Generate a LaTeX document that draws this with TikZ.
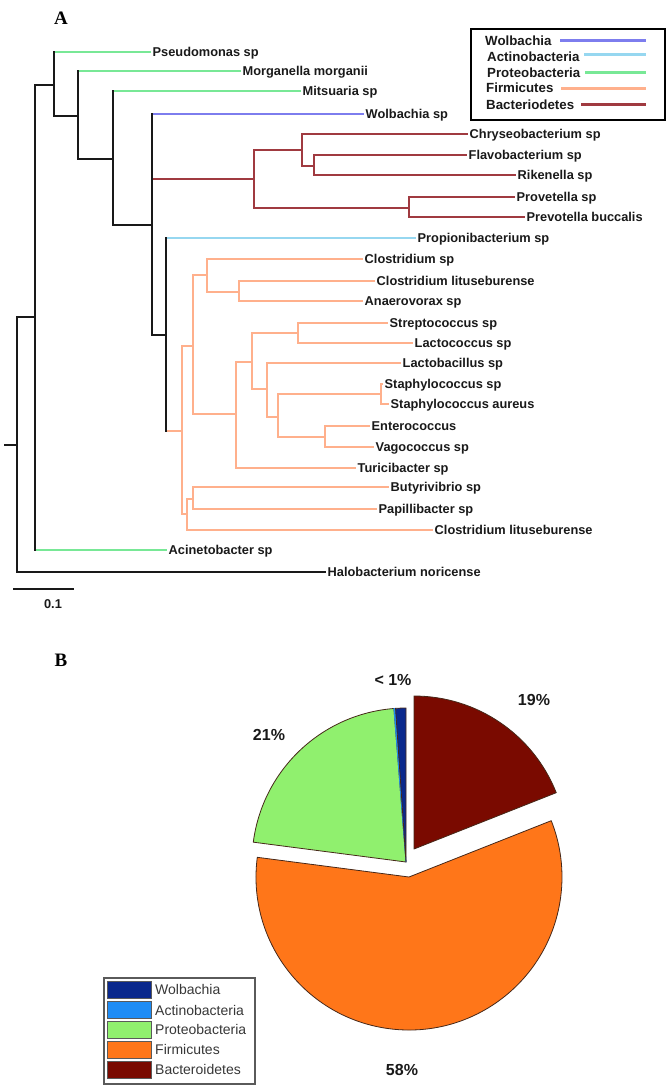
\documentclass[tikz,border=0pt]{standalone}
\usepackage{fontspec}
\setmainfont{Liberation Sans}
\newfontfamily\serifbold{Liberation Serif}
\usetikzlibrary{calc}
\definecolor{cProt}{RGB}{120,232,150}
\definecolor{cWol}{RGB}{125,125,238}
\definecolor{cAct}{RGB}{150,215,240}
\definecolor{cFir}{RGB}{255,176,140}
\definecolor{cBac}{RGB}{160,58,64}
\definecolor{cBlk}{RGB}{25,25,25}
\definecolor{pWol}{RGB}{10,40,140}
\definecolor{pAct}{RGB}{30,140,245}
\definecolor{pPro}{RGB}{144,240,110}
\definecolor{pFir}{RGB}{255,118,25}
\definecolor{pBac}{RGB}{122,10,0}
\definecolor{pEdge}{RGB}{70,40,25}
\definecolor{lgGray}{RGB}{90,90,90}
\definecolor{txtGray}{RGB}{55,55,55}
\begin{document}
\begin{tikzpicture}[x=1pt,y=-1pt,
  br/.style={line width=2pt,line cap=rect},
  leaf/.style={anchor=west,inner xsep=2.5pt,inner ysep=0pt,font=\bfseries\fontsize{12.8}{13}\selectfont,text height=9.2pt,text depth=0pt,text=cBlk},
  lgt/.style={anchor=west,inner sep=0pt,font=\bfseries\fontsize{13.3}{14}\selectfont,text height=9.5pt,text depth=0pt,text=cBlk},
  lgl/.style={line width=3pt},
  pct/.style={font=\bfseries\fontsize{16}{16}\selectfont,text=cBlk,inner sep=0pt},
  slice/.style={draw=pEdge,line width=0.8pt,line join=round},
  sw/.style={draw=lgGray,line width=1pt,minimum width=44pt,minimum height=17pt,inner sep=0pt},
  swt/.style={anchor=west,inner sep=0pt,font=\fontsize{14}{14}\selectfont,text=txtGray,text height=10pt,text depth=0pt},
  panel/.style={font=\serifbold\bfseries\fontsize{19}{19}\selectfont,inner sep=0pt}]
\useasboundingbox (0,0) rectangle (671,1090);

% panel letters
\node[panel] (labA) at (61,18) {A};
\node[panel] (labB) at (61,660) {B};

% internal nodes
\coordinate (stub) at (5,445);
\coordinate (r0) at (17,445);
\coordinate (n35) at (35,317);
\coordinate (n54) at (54,85);
\coordinate (n78) at (78,116);
\coordinate (n113) at (113,159);
\coordinate (n152) at (152,225);
\coordinate (nBac) at (254,179);
\coordinate (nB1) at (302,150);
\coordinate (nB3) at (314,166);
\coordinate (nB2) at (409,208);
\coordinate (n166) at (166,335);
\coordinate (nF) at (182,431);
\coordinate (nF1) at (193,346);
\coordinate (nC) at (207,275);
\coordinate (nC2) at (239,292);
\coordinate (nF3) at (236,414);
\coordinate (nL) at (252,362);
\coordinate (nS) at (298,333);
\coordinate (nL2) at (267,389);
\coordinate (nL3) at (278,417);
\coordinate (nSt) at (381,394);
\coordinate (nE) at (325,437);
\coordinate (nF2) at (187,514);
\coordinate (nBu) at (193,499);

% leaves
\node[leaf] (pse) at (150,52) {Pseudomonas sp};
\node[leaf] (mor) at (240,71) {Morganella morganii};
\node[leaf] (mit) at (300,91) {Mitsuaria sp};
\node[leaf] (wol) at (363,114) {Wolbachia sp};
\node[leaf] (chr) at (467,134) {Chryseobacterium sp};
\node[leaf] (fla) at (466,155) {Flavobacterium sp};
\node[leaf] (rik) at (515,175) {Rikenella sp};
\node[leaf] (prv) at (514,197) {Provetella sp};
\node[leaf] (pbu) at (524,217) {Prevotella buccalis};
\node[leaf] (pro) at (415,238) {Propionibacterium sp};
\node[leaf] (cls) at (362,259) {Clostridium sp};
\node[leaf] (cli) at (374,281) {Clostridium lituseburense};
\node[leaf] (ana) at (362,301) {Anaerovorax sp};
\node[leaf] (str) at (387,323) {Streptococcus sp};
\node[leaf] (lco) at (412,343) {Lactococcus sp};
\node[leaf] (lba) at (400,363) {Lactobacillus sp};
\node[leaf] (sts) at (382,384) {Staphylococcus sp};
\node[leaf] (sta) at (388,404) {Staphylococcus aureus};
\node[leaf] (ent) at (369,426) {Enterococcus};
\node[leaf] (vag) at (373,447) {Vagococcus sp};
\node[leaf] (tur) at (355,468) {Turicibacter sp};
\node[leaf] (but) at (388,487) {Butyrivibrio sp};
\node[leaf] (pap) at (376,509) {Papillibacter sp};
\node[leaf] (cl2) at (432,530) {Clostridium lituseburense};
\node[leaf] (aci) at (166,550) {Acinetobacter sp};
\node[leaf] (hal) at (325,572) {Halobacterium noricense};

% horizontal branches
\draw[br,cBlk] (stub) -- (r0);
\draw[br,cBlk] (r0|-n35) -- (n35);
\draw[br,cBlk] (r0|-hal.west) -- (hal.west);
\draw[br,cBlk] (n35|-n54) -- (n54);
\draw[br,cBlk] (n54|-n78) -- (n78);
\draw[br,cBlk] (n78|-n113) -- (n113);
\draw[br,cBlk] (n113|-n152) -- (n152);
\draw[br,cBlk] (n152|-n166) -- (n166);
\draw[br,cProt] (n35|-aci.west) -- (aci.west);
\draw[br,cProt] (n54|-pse.west) -- (pse.west);
\draw[br,cProt] (n78|-mor.west) -- (mor.west);
\draw[br,cProt] (n113|-mit.west) -- (mit.west);
\draw[br,cWol] (n152|-wol.west) -- (wol.west);
\draw[br,cBac] (n152|-nBac) -- (nBac);
\draw[br,cBac] (nBac|-nB1) -- (nB1);
\draw[br,cBac] (nBac|-nB2) -- (nB2);
\draw[br,cBac] (nB1|-chr.west) -- (chr.west);
\draw[br,cBac] (nB1|-nB3) -- (nB3);
\draw[br,cBac] (nB3|-fla.west) -- (fla.west);
\draw[br,cBac] (nB3|-rik.west) -- (rik.west);
\draw[br,cBac] (nB2|-prv.west) -- (prv.west);
\draw[br,cBac] (nB2|-pbu.west) -- (pbu.west);
\draw[br,cAct] (n166|-pro.west) -- (pro.west);
\draw[br,cFir] (n166|-nF) -- (nF);
\draw[br,cFir] (nF|-nF1) -- (nF1);
\draw[br,cFir] (nF|-nF2) -- (nF2);
\draw[br,cFir] (nF1|-nC) -- (nC);
\draw[br,cFir] (nF1|-nF3) -- (nF3);
\draw[br,cFir] (nC|-cls.west) -- (cls.west);
\draw[br,cFir] (nC|-nC2) -- (nC2);
\draw[br,cFir] (nC2|-cli.west) -- (cli.west);
\draw[br,cFir] (nC2|-ana.west) -- (ana.west);
\draw[br,cFir] (nF3|-nL) -- (nL);
\draw[br,cFir] (nF3|-tur.west) -- (tur.west);
\draw[br,cFir] (nL|-nS) -- (nS);
\draw[br,cFir] (nL|-nL2) -- (nL2);
\draw[br,cFir] (nS|-str.west) -- (str.west);
\draw[br,cFir] (nS|-lco.west) -- (lco.west);
\draw[br,cFir] (nL2|-lba.west) -- (lba.west);
\draw[br,cFir] (nL2|-nL3) -- (nL3);
\draw[br,cFir] (nL3|-nSt) -- (nSt);
\draw[br,cFir] (nL3|-nE) -- (nE);
\draw[br,cFir] (nSt|-sts.west) -- (sts.west);
\draw[br,cFir] (nSt|-sta.west) -- (sta.west);
\draw[br,cFir] (nE|-ent.west) -- (ent.west);
\draw[br,cFir] (nE|-vag.west) -- (vag.west);
\draw[br,cFir] (nF2|-nBu) -- (nBu);
\draw[br,cFir] (nF2|-cl2.west) -- (cl2.west);
\draw[br,cFir] (nBu|-but.west) -- (but.west);
\draw[br,cFir] (nBu|-pap.west) -- (pap.west);

% vertical bars
\draw[br,cBac] (nBac|-nB1) -- (nBac|-nB2);
\draw[br,cBac] (nB1|-chr.west) -- (nB1|-nB3);
\draw[br,cBac] (nB3|-fla.west) -- (nB3|-rik.west);
\draw[br,cBac] (nB2|-prv.west) -- (nB2|-pbu.west);
\draw[br,cFir] (nF|-nF1) -- (nF|-nF2);
\draw[br,cFir] (nF1|-nC) -- (nF1|-nF3);
\draw[br,cFir] (nC|-cls.west) -- (nC|-nC2);
\draw[br,cFir] (nC2|-cli.west) -- (nC2|-ana.west);
\draw[br,cFir] (nF3|-nL) -- (nF3|-tur.west);
\draw[br,cFir] (nL|-nS) -- (nL|-nL2);
\draw[br,cFir] (nS|-str.west) -- (nS|-lco.west);
\draw[br,cFir] (nL2|-lba.west) -- (nL2|-nL3);
\draw[br,cFir] (nL3|-nSt) -- (nL3|-nE);
\draw[br,cFir] (nSt|-sts.west) -- (nSt|-sta.west);
\draw[br,cFir] (nE|-ent.west) -- (nE|-vag.west);
\draw[br,cFir] (nF2|-nBu) -- (nF2|-cl2.west);
\draw[br,cFir] (nBu|-but.west) -- (nBu|-pap.west);
\draw[br,cBlk] (r0|-n35) -- (r0|-hal.west);
\draw[br,cBlk] (n35|-n54) -- (n35|-aci.west);
\draw[br,cBlk] (n54|-pse.west) -- (n54|-n78);
\draw[br,cBlk] (n78|-mor.west) -- (n78|-n113);
\draw[br,cBlk] (n113|-mit.west) -- (n113|-n152);
\draw[br,cBlk] (n152|-wol.west) -- (n152|-n166);
\draw[br,cBlk] (n166|-pro.west) -- (n166|-nF);

% scale bar
\coordinate (sb1) at (13,589);
\coordinate (sb2) at (74,589);
\draw[line width=2pt,cBlk] (sb1) -- (sb2);
\node[font=\bfseries\fontsize{12.8}{13}\selectfont,text=cBlk,inner sep=0pt] (sbt) at (53,604) {0.1};

% legend (tree)
\node[draw=black,line width=2pt,minimum width=194pt,minimum height=91pt,anchor=north west,inner sep=0pt] (lgbox) at (470,28) {};
\node[lgt] (lgW) at (485,41) {Wolbachia};
\node[lgt] (lgA) at (487,57) {Actinobacteria};
\node[lgt] (lgP) at (487,73) {Proteobacteria};
\node[lgt] (lgF) at (486,88) {Firmicutes};
\node[lgt] (lgB) at (486,105) {Bacteriodetes};
\coordinate (lgW1) at (560,40); \coordinate (lgW2) at (646,40);
\coordinate (lgA1) at (584,54); \coordinate (lgA2) at (646,54);
\coordinate (lgP1) at (585,72); \coordinate (lgP2) at (646,72);
\coordinate (lgF1) at (561,88); \coordinate (lgF2) at (646,88);
\coordinate (lgB1) at (581,104); \coordinate (lgB2) at (646,104);
\draw[lgl,cWol] (lgW1) -- (lgW2);
\draw[lgl,cAct] (lgA1) -- (lgA2);
\draw[lgl,cProt] (lgP1) -- (lgP2);
\draw[lgl,cFir] (lgF1) -- (lgF2);
\draw[lgl,cBac] (lgB1) -- (lgB2);

% pie chart
\coordinate (cBacP) at (414,849);
\coordinate (cFirP) at (409,877);
\coordinate (cRest) at (406,862);
\filldraw[slice,fill=pBac] (cBacP) -- ++(21.6:153pt) arc[start angle=21.6,end angle=90,radius=153pt] -- cycle;
\filldraw[slice,fill=pFir] (cFirP) -- ++(172.6:153pt) arc[start angle=172.6,end angle=381.6,radius=153pt] -- cycle;
\filldraw[slice,fill=pPro] (cRest) -- ++(94.5:154pt) arc[start angle=94.5,end angle=172.6,radius=154pt] -- cycle;
\filldraw[slice,fill=pAct,draw=pAct] (cRest) -- ++(93.9:154pt) arc[start angle=93.9,end angle=94.5,radius=154pt] -- cycle;
\filldraw[slice,fill=pWol] (cRest) -- ++(90:154pt) arc[start angle=90,end angle=93.9,radius=154pt] -- cycle;

\node[pct] (pc1) at (393,680) {< 1\%};
\node[pct] (pc19) at (534,700) {19\%};
\node[pct] (pc21) at (269,735) {21\%};
\node[pct] (pc58) at (402,1070) {58\%};

% pie legend
\node[draw=lgGray,line width=1.5pt,minimum width=151pt,minimum height=106pt,anchor=north west,inner sep=0pt] (plg) at (103,977) {};
\node[sw,fill=pWol] (sw1) at (129,989.5) {};
\node[sw,fill=pAct] (sw2) at (129,1010) {};
\node[sw,fill=pPro] (sw3) at (129,1029.5) {};
\node[sw,fill=pFir] (sw4) at (129,1049.5) {};
\node[sw,fill=pBac] (sw5) at (129,1069.5) {};
\node[swt] (st1) at (155,989.5) {Wolbachia};
\node[swt] (st2) at (155,1010) {Actinobacteria};
\node[swt] (st3) at (155,1029.5) {Proteobacteria};
\node[swt] (st4) at (155,1049.5) {Firmicutes};
\node[swt] (st5) at (155,1069.5) {Bacteroidetes};
\end{tikzpicture}
\end{document}
